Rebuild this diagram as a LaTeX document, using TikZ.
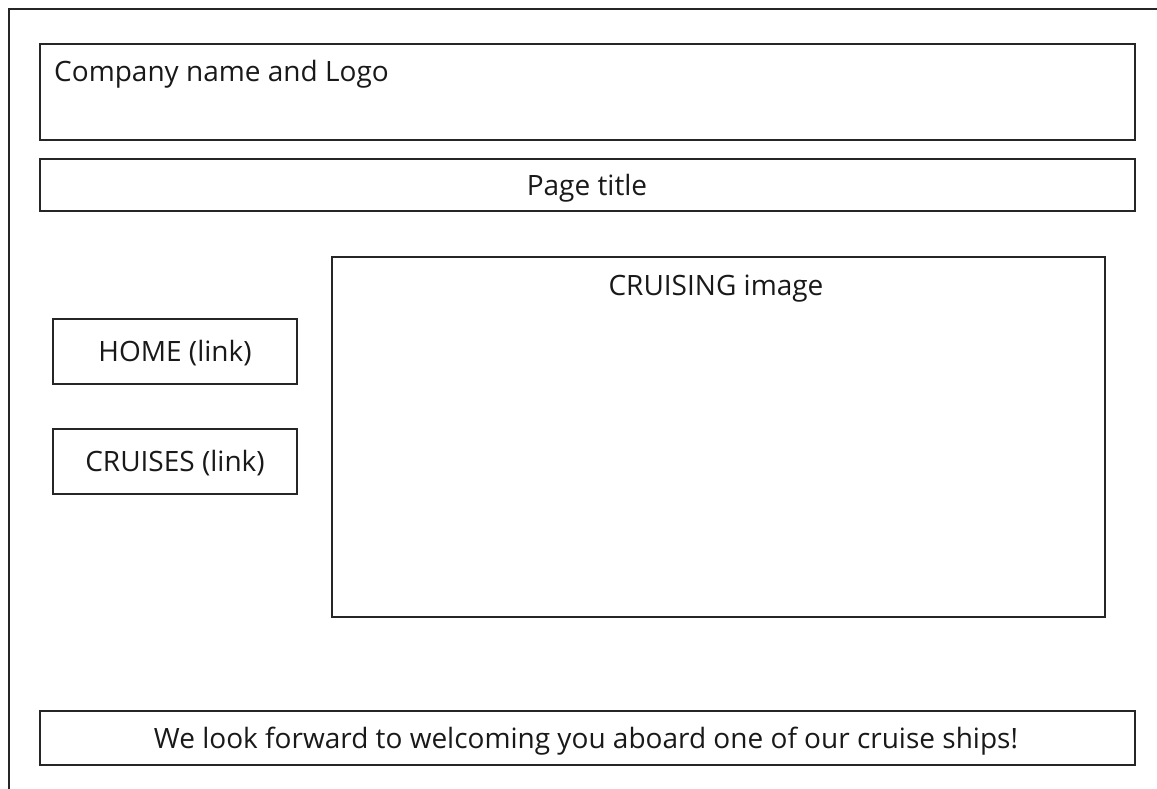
\documentclass[tikz,border=0pt]{standalone}
\usepackage{fontspec}
\setmainfont{Open Sans}
\begin{document}
\begin{tikzpicture}[x=1pt,y=-1pt,
  box/.style={draw=black!85,line width=2.9pt},
  lbl/.style={font=\fontsize{28}{32}\selectfont,text=black!90,inner sep=0pt,anchor=base}]
\useasboundingbox (0,0) rectangle (1157,789);
\draw[black!85,line width=2.9pt] (9,789) -- (9,9) -- (1157,9);
\draw[box] (40,44) rectangle (1135,140);
\node[lbl,anchor=base west] (t1) at (54,82) {Company name and Logo};
\draw[box] (40,159) rectangle (1135,211);
\node[lbl] (t2) at (587,196) {Page title};
\draw[box] (332,257) rectangle (1105,617);
\node[lbl] (t3) at (716,295) {CRUISING image};
\draw[box] (53,319) rectangle (297,384);
\node[lbl] (t4) at (175,361) {HOME (link)};
\draw[box] (53,429) rectangle (297,494);
\node[lbl] (t5) at (175,471) {CRUISES (link)};
\draw[box] (40,711) rectangle (1135,765);
\node[lbl] (t6) at (586,748) {We look forward to welcoming you aboard one of our cruise ships!};
\end{tikzpicture}
\end{document}
